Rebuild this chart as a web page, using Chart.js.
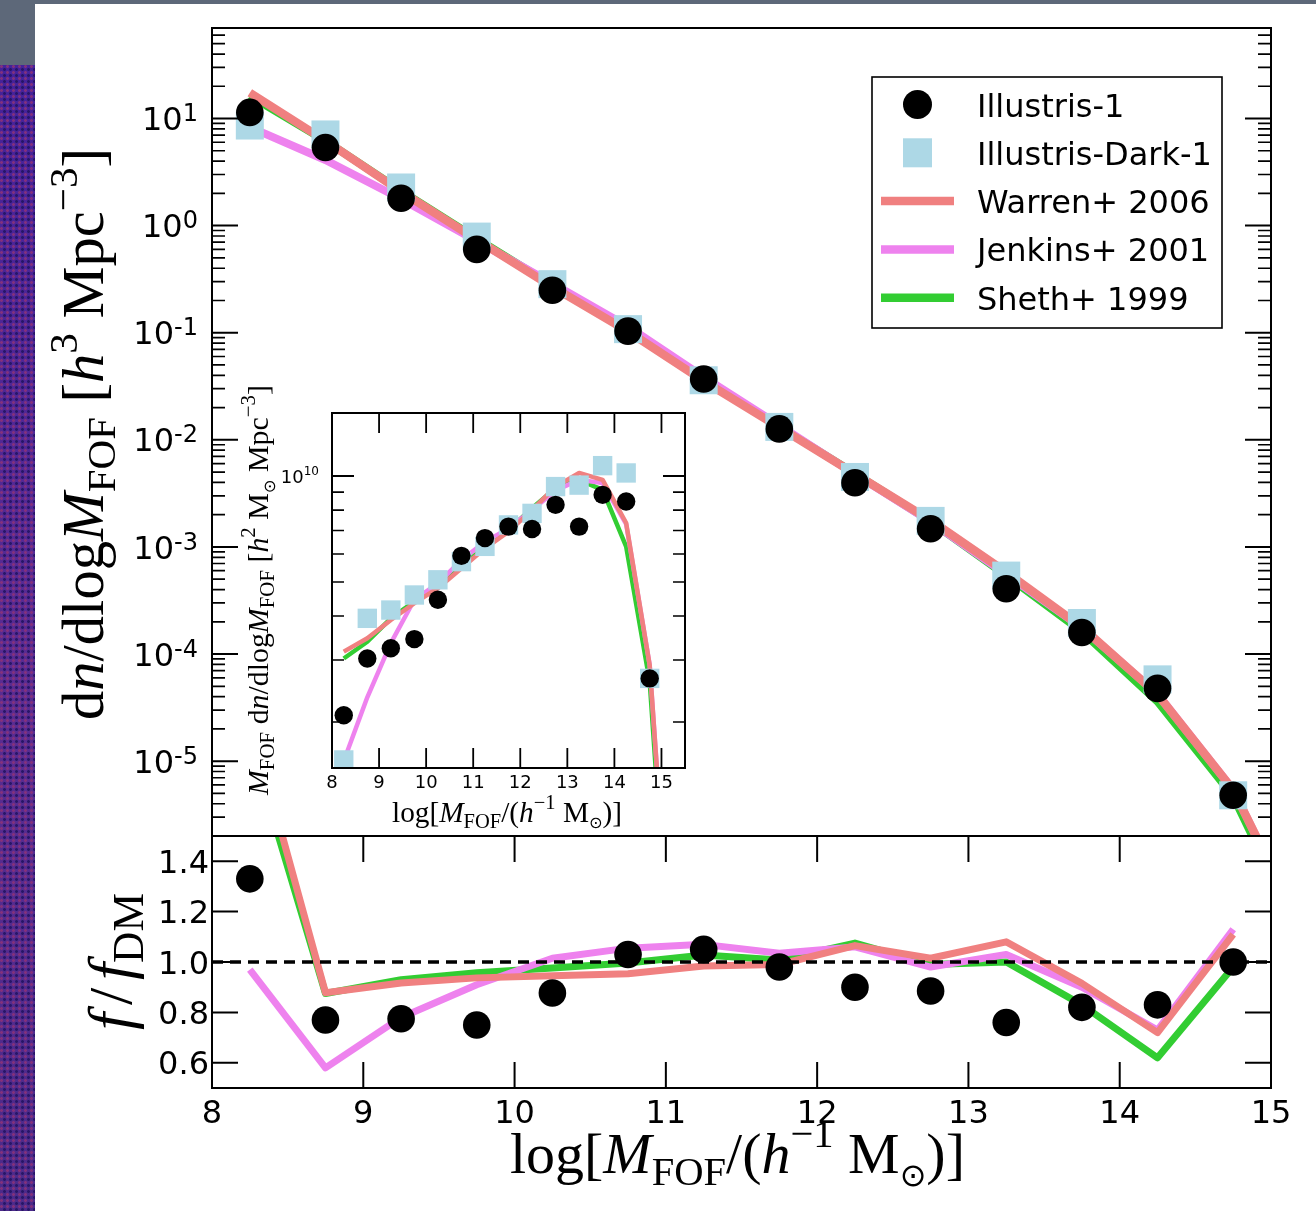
<!DOCTYPE html>
<html lang="en">
<head>
<meta charset="utf-8">
<title>FOF halo mass function</title>
<script src="https://cdn.jsdelivr.net/npm/chart.js@4.4.1/dist/chart.umd.min.js"></script>
<style>
  html, body { margin: 0; padding: 0; background: #ffffff; }
  #page { position: relative; width: 1316px; height: 1211px; overflow: hidden; background: #ffffff; }
  #page canvas { position: absolute; left: 0; top: 0; }
  .strip-top { position: absolute; left: 0; top: 0; width: 1316px; height: 4px; background: #5d6879; }
  .strip-corner { position: absolute; left: 0; top: 0; width: 35px; height: 65px; background: #5d6879; }
  .strip-side {
    position: absolute; left: 0; top: 65px; width: 35px; height: 1146px;
    background-color: #4a278f;
    background-image:
      radial-gradient(circle at 1.5px 1.5px, rgba(140, 50, 120, 0.85) 1px, transparent 1.8px),
      radial-gradient(circle at 4.5px 4.5px, rgba(35, 20, 100, 0.9) 1px, transparent 1.8px),
      linear-gradient(#45229a, #5a2c92 55%, #4c2a8a);
    background-size: 6px 6px, 6px 6px, 100% 100%;
  }
</style>
</head>
<body>
<div id="page">
  <div class="strip-top"></div>
  <div class="strip-corner"></div>
  <div class="strip-side"></div>
  <canvas id="massFunction" width="1316" height="1211"></canvas>
  <canvas id="ratio" width="1316" height="1211"></canvas>
  <canvas id="inset" width="1316" height="1211"></canvas>
</div>
<script>
// ---- data -------------------------------------------------------------
const seriesNames = ['Illustris-1', 'Illustris-Dark-1', 'Warren+ 2006', 'Jenkins+ 2001', 'Sheth+ 1999'];

// log10 of FOF mass, bin centres (models carry one extra bin past the edge)
const massBins = [8.25, 8.75, 9.25, 9.75, 10.25, 10.75, 11.25, 11.75, 12.25, 12.75, 13.25, 13.75, 14.25, 14.75];
const modelMass = [8.25, 8.75, 9.25, 9.75, 10.25, 10.75, 11.25, 11.75, 12.25, 12.75, 13.25, 13.75, 14.25, 14.75, 15.25];

// dn/dlogM [h^3 Mpc^-3]
const illustris = [11.4, 5.37, 1.80, 0.60, 0.249, 0.1035, 0.037, 0.01265, 0.00398, 0.00148, 4.07e-4, 1.59e-4, 4.78e-5, 4.8e-6];
const illustrisDark = [8.6, 7.1, 2.27, 0.79, 0.284, 0.108, 0.036, 0.0132, 0.0045, 0.00175, 5.4e-4, 1.95e-4, 5.8e-5, 4.8e-6];
const warren = [17.4, 6.2, 2.08, 0.74, 0.268, 0.103, 0.0354, 0.0131, 0.0048, 0.00177, 5.8e-4, 1.78e-4, 4.2e-5, 5.4e-6, 2.0e-7];
const jenkins = [8.3, 4.1, 1.77, 0.72, 0.288, 0.114, 0.0385, 0.01366, 0.00477, 0.00172, 5.56e-4, 1.76e-4, 4.23e-5, 5.4e-6, 2.0e-7];
const sheth = [16.3, 6.2, 2.11, 0.756, 0.277, 0.1076, 0.037, 0.0133, 0.00484, 0.00173, 5.4e-4, 1.62e-4, 3.6e-5, 4.7e-6, 1.6e-7];

// f / f_DM
const ratioIllustris = [1.33, 0.77, 0.775, 0.75, 0.877, 1.03, 1.05, 0.98, 0.90, 0.885, 0.76, 0.82, 0.83, 1.0];
const ratioWarren = [1.97, 0.878, 0.917, 0.937, 0.945, 0.953, 0.984, 0.99, 1.065, 1.015, 1.08, 0.915, 0.72, 1.11];
const ratioJenkins = [0.97, 0.58, 0.78, 0.91, 1.015, 1.055, 1.07, 1.035, 1.06, 0.98, 1.03, 0.90, 0.73, 1.13];
const ratioSheth = [1.88, 0.875, 0.93, 0.957, 0.976, 0.996, 1.028, 1.008, 1.075, 0.99, 1.0, 0.83, 0.62, 0.98];
const unityX = [8, 15];
const unityY = [1, 1];

// M dn/dlogM [h^2 Msun Mpc^-3]
const insetIllustris = [2.09e9, 3.03e9, 3.24e9, 3.44e9, 4.45e9, 5.93e9, 6.66e9, 7.18e9, 7.07e9, 8.28e9, 7.18e9, 8.84e9, 8.46e9, 2.66e9];
const insetDark = [1.56e9, 3.94e9, 4.16e9, 4.59e9, 5.07e9, 5.71e9, 6.31e9, 7.26e9, 7.83e9, 9.33e9, 9.42e9, 1.07e10, 1.02e10, 2.66e9];
const insetWarren = [3.17e9, 3.46e9, 3.9e9, 4.35e9, 4.8e9, 5.47e9, 6.23e9, 6.95e9, 8.0e9, 9.33e9, 1.02e10, 9.75e9, 7.35e9, 2.9e9, 3.2e8];
const insetJenkins = [1.55e9, 2.35e9, 3.35e9, 4.45e9, 4.95e9, 5.77e9, 6.5e9, 7.1e9, 8.0e9, 9.1e9, 9.75e9, 9.55e9, 7.3e9, 2.9e9, 3.2e8];
const insetSheth = [3.03e9, 3.38e9, 3.94e9, 4.4e9, 4.9e9, 5.52e9, 6.31e9, 7.03e9, 8.1e9, 9.23e9, 9.75e9, 9.13e9, 6.3e9, 2.6e9, 2.8e8];

// ticks
const massTicks = [8, 9, 10, 11, 12, 13, 14, 15];
const densityDecades = [-5, -4, -3, -2, -1, 0, 1];
const ratioTicks = [0.6, 0.8, 1.0, 1.2, 1.4];
const insetDecades = [10];

// ---- styling ----------------------------------------------------------
const W = 1316, H = 1211;
const SANS = '"DejaVu Sans", sans-serif';
const SERIF = '"Liberation Serif", "DejaVu Serif", serif';
const COLORS = ['#000000', '#add8e6', '#f08080', '#ee82ee', '#32cd32'];

function pts(xs, ys) {
    return ys.map((y, i) => ({ x: xs[i], y: y }));
}

function markers(name, xs, ys, style, radius, color) {
    return {
        label: name, data: pts(xs, ys), showLine: false,
        pointStyle: style, pointRadius: radius, pointHoverRadius: radius,
        pointBackgroundColor: color, pointBorderWidth: 0, clip: 0
    };
}

function curve(name, xs, ys, color, width, dash) {
    return {
        label: name, data: pts(xs, ys), showLine: true,
        borderColor: color, borderWidth: width, borderDash: dash || [],
        borderJoinStyle: 'round', tension: 0,
        pointRadius: 0, pointHoverRadius: 0, clip: 0
    };
}

// ---- drawing helpers ----------------------------------------------------
function frame(ctx, a) {
    ctx.lineWidth = 2;
    ctx.strokeStyle = '#000';
    ctx.strokeRect(a.left, a.top, a.right - a.left, a.bottom - a.top);
}

function ticksX(chart, values, len, width, sides) {
    const { ctx, chartArea: a } = chart;
    const s = chart.scales.x;
    ctx.lineWidth = width;
    ctx.strokeStyle = '#000';
    ctx.beginPath();
    values.forEach(v => {
        const p = s.getPixelForValue(v);
        if (sides.includes('bottom')) { ctx.moveTo(p, a.bottom); ctx.lineTo(p, a.bottom - len); }
        if (sides.includes('top')) { ctx.moveTo(p, a.top); ctx.lineTo(p, a.top + len); }
    });
    ctx.stroke();
}

function ticksY(chart, values, len, width) {
    const { ctx, chartArea: a } = chart;
    const s = chart.scales.y;
    ctx.lineWidth = width;
    ctx.strokeStyle = '#000';
    ctx.beginPath();
    values.forEach(v => {
        const p = s.getPixelForValue(v);
        ctx.moveTo(a.left, p); ctx.lineTo(a.left + len, p);
        ctx.moveTo(a.right, p); ctx.lineTo(a.right - len, p);
    });
    ctx.stroke();
}

function logMinors(lo, hi) {
    const out = [];
    for (let d = Math.floor(Math.log10(lo)); d <= Math.ceil(Math.log10(hi)); d++) {
        for (let k = 2; k <= 9; k++) {
            const v = k * Math.pow(10, d);
            if (v > lo && v < hi) out.push(v);
        }
    }
    return out;
}

// "10" with a raised exponent, right-aligned, vertically centred on y
function powLabel(ctx, exp, xRight, y, size, supSize, raise) {
    ctx.textAlign = 'left';
    ctx.textBaseline = 'alphabetic';
    ctx.fillStyle = '#000';
    ctx.font = size + 'px ' + SANS;
    const w10 = ctx.measureText('10').width;
    ctx.font = supSize + 'px ' + SANS;
    const ws = ctx.measureText(exp).width;
    const base = y + size * 0.729 / 2;
    const x0 = xRight - w10 - ws;
    ctx.font = size + 'px ' + SANS;
    ctx.fillText('10', x0, base);
    ctx.font = supSize + 'px ' + SANS;
    ctx.fillText(exp, x0 + w10, base - raise);
}

function plainLabel(ctx, text, x, y, size, align) {
    ctx.textAlign = align;
    ctx.textBaseline = 'alphabetic';
    ctx.fillStyle = '#000';
    ctx.font = size + 'px ' + SANS;
    ctx.fillText(text, x, y + size * 0.729 / 2);
}

// math-style titles: runs of text with their own scale / shift / slant
function partFont(p, size) {
    return (p.it ? 'italic ' : '') + (size * (p.sc || 1)).toFixed(2) + 'px ' + (p.sans ? SANS : SERIF);
}

function richWidth(ctx, parts, size) {
    let w = 0;
    parts.forEach(p => { ctx.font = partFont(p, size); w += ctx.measureText(p.t).width; });
    return w;
}

function drawRich(ctx, parts, x, y, size) {
    ctx.textAlign = 'left';
    ctx.textBaseline = 'alphabetic';
    ctx.fillStyle = '#000';
    let cx = x;
    parts.forEach(p => {
        ctx.font = partFont(p, size);
        ctx.fillText(p.t, cx, y + (p.dy || 0) * size);
        cx += ctx.measureText(p.t).width;
    });
}

function fitSize(ctx, parts, length) {
    return 100 * length / richWidth(ctx, parts, 100);
}

function titleH(ctx, parts, x0, x1, baseline) {
    drawRich(ctx, parts, x0, baseline, fitSize(ctx, parts, x1 - x0));
}

function titleV(ctx, parts, yStart, yEnd, baseline) {
    const size = fitSize(ctx, parts, yStart - yEnd);
    ctx.save();
    ctx.translate(baseline, yStart);
    ctx.rotate(-Math.PI / 2);
    drawRich(ctx, parts, 0, 0, size);
    ctx.restore();
}

const SUB = { sc: 0.7, dy: 0.2 };
const SUP = { sc: 0.7, dy: -0.45 };
const SUN = { t: '\u2299', sc: 0.55, dy: 0.22, sans: 1 };

const massTitle = [
    { t: 'log[' }, { t: 'M', it: 1 }, Object.assign({ t: 'FOF' }, SUB), { t: '/(' }, { t: 'h', it: 1 },
    Object.assign({ t: '\u22121' }, SUP), { t: ' M' }, SUN, { t: ')]' }
];
const densityTitle = [
    { t: 'd' }, { t: 'n', it: 1 }, { t: '/dlog' }, { t: 'M', it: 1 }, Object.assign({ t: 'FOF' }, SUB),
    { t: ' [' }, { t: 'h', it: 1 }, Object.assign({ t: '3' }, SUP), { t: ' Mpc' },
    Object.assign({ t: '\u22123' }, SUP), { t: ']' }
];
const ratioTitle = [
    { t: 'f', it: 1 }, { t: ' ', sc: 0.5 }, { t: '/' }, { t: ' ', sc: 0.5 }, { t: 'f', it: 1 },
    Object.assign({ t: 'DM' }, SUB)
];
const insetTitle = [
    { t: 'M', it: 1 }, Object.assign({ t: 'FOF' }, SUB), { t: ' d' }, { t: 'n', it: 1 }, { t: '/dlog' },
    { t: 'M', it: 1 }, Object.assign({ t: 'FOF' }, SUB), { t: ' [' }, { t: 'h', it: 1 },
    Object.assign({ t: '2' }, SUP), { t: ' M' }, SUN, { t: ' Mpc' }, Object.assign({ t: '\u22123' }, SUP), { t: ']' }
];

function drawLegend(ctx) {
    const l = 872, t = 77, r = 1222, b = 328;
    ctx.fillStyle = '#fff';
    ctx.fillRect(l, t, r - l, b - t);
    ctx.lineWidth = 1.6;
    ctx.strokeStyle = '#000';
    ctx.strokeRect(l, t, r - l, b - t);
    const kinds = ['circle', 'square', 'line', 'line', 'line'];
    seriesNames.forEach((name, i) => {
        const y = 104.5 + i * 48.3;
        ctx.fillStyle = COLORS[i];
        if (kinds[i] === 'circle') {
            ctx.beginPath();
            ctx.arc(917.5, y, 14.5, 0, Math.PI * 2);
            ctx.fill();
        } else if (kinds[i] === 'square') {
            ctx.fillRect(903, y - 14.5, 29, 29);
        } else {
            ctx.strokeStyle = COLORS[i];
            ctx.lineWidth = 8.5;
            ctx.beginPath();
            ctx.moveTo(881, y); ctx.lineTo(954, y);
            ctx.stroke();
        }
        ctx.fillStyle = '#000';
        ctx.font = '32px ' + SANS;
        ctx.textAlign = 'left';
        ctx.textBaseline = 'alphabetic';
        ctx.fillText(name, 977, y + 12);
    });
}

// ---- chart factory --------------------------------------------------------
function panel(id, area, xOpts, yOpts, datasets, decorate) {
    return new Chart(document.getElementById(id), {
        type: 'scatter',
        data: { datasets: datasets },
        options: {
            responsive: false,
            animation: false,
            devicePixelRatio: 1,
            events: [],
            layout: {
                autoPadding: false,
                padding: { left: area.left, top: area.top, right: W - area.right, bottom: H - area.bottom }
            },
            scales: {
                x: Object.assign({ display: false, bounds: 'data' }, xOpts),
                y: Object.assign({ display: false, bounds: 'data' }, yOpts)
            },
            plugins: { legend: { display: false }, tooltip: { enabled: false } }
        },
        plugins: [{
            id: id + 'Axes',
            beforeDatasetsDraw(chart) {
                const a = chart.chartArea;
                chart.ctx.save();
                chart.ctx.fillStyle = '#fff';
                chart.ctx.fillRect(a.left, a.top, a.right - a.left, a.bottom - a.top);
                chart.ctx.restore();
            },
            afterDraw(chart) {
                chart.ctx.save();
                decorate(chart, chart.ctx);
                chart.ctx.restore();
            }
        }]
    });
}

// ---- main panel: dn/dlogM ---------------------------------------------------
panel('massFunction', { left: 212, top: 28, right: 1271, bottom: 836 },
    { type: 'linear', min: 8, max: 15 },
    { type: 'logarithmic', min: 2e-6, max: 70 },
    [
        markers(seriesNames[0], massBins, illustris, 'circle', 13.8, COLORS[0]),
        markers(seriesNames[1], massBins, illustrisDark, 'rect', 19.8, COLORS[1]),
        curve(seriesNames[2], modelMass, warren, COLORS[2], 8.5),
        curve(seriesNames[3], modelMass, jenkins, COLORS[3], 8),
        curve(seriesNames[4], modelMass, sheth, COLORS[4], 8)
    ],
    (chart, ctx) => {
        const y = chart.scales.y;
        frame(ctx, chart.chartArea);
        ticksY(chart, densityDecades.map(e => Math.pow(10, e)), 26, 2);
        ticksY(chart, logMinors(y.min, y.max), 13, 1.7);
        densityDecades.forEach(e => powLabel(ctx, String(e), 198, y.getPixelForValue(Math.pow(10, e)), 32, 24, 9));
        titleV(ctx, densityTitle, 720, 148, 103);
        drawLegend(ctx);
    });

// ---- lower panel: ratio to the dark-matter-only run -------------------------
panel('ratio', { left: 212, top: 836, right: 1271, bottom: 1088 },
    { type: 'linear', min: 8, max: 15 },
    { type: 'linear', min: 0.5, max: 1.5 },
    [
        markers(seriesNames[0], massBins, ratioIllustris, 'circle', 13.8, COLORS[0]),
        curve('unity', unityX, unityY, '#000', 3.5, [11, 7]),
        curve(seriesNames[2], massBins, ratioWarren, COLORS[2], 7),
        curve(seriesNames[3], massBins, ratioJenkins, COLORS[3], 7),
        curve(seriesNames[4], massBins, ratioSheth, COLORS[4], 7)
    ],
    (chart, ctx) => {
        const x = chart.scales.x, y = chart.scales.y;
        frame(ctx, chart.chartArea);
        ticksX(chart, massTicks, 26, 2, ['top', 'bottom']);
        ticksY(chart, ratioTicks, 26, 2);
        ratioTicks.forEach(v => plainLabel(ctx, v.toFixed(1), 209, y.getPixelForValue(v), 32, 'right'));
        massTicks.forEach(v => plainLabel(ctx, String(v), x.getPixelForValue(v), 1111, 32, 'center'));
        titleH(ctx, massTitle, 510, 965, 1173);
        titleV(ctx, ratioTitle, 1030, 893, 131);
    });

// ---- inset: M dn/dlogM ------------------------------------------------------
panel('inset', { left: 332, top: 413, right: 685, bottom: 768 },
    { type: 'linear', min: 8, max: 15.5 },
    { type: 'logarithmic', min: 1.48e9, max: 1.51e10 },
    [
        markers(seriesNames[0], massBins, insetIllustris, 'circle', 9.2, COLORS[0]),
        markers(seriesNames[1], massBins, insetDark, 'rect', 13.7, COLORS[1]),
        curve(seriesNames[2], modelMass, insetWarren, COLORS[2], 4.5),
        curve(seriesNames[3], modelMass, insetJenkins, COLORS[3], 4.5),
        curve(seriesNames[4], modelMass, insetSheth, COLORS[4], 4.5)
    ],
    (chart, ctx) => {
        const x = chart.scales.x, y = chart.scales.y;
        frame(ctx, chart.chartArea);
        ticksX(chart, massTicks, 20, 1.8, ['top', 'bottom']);
        ticksY(chart, insetDecades.map(e => Math.pow(10, e)), 22, 1.8);
        ticksY(chart, logMinors(y.min, y.max), 12, 1.6);
        insetDecades.forEach(e => powLabel(ctx, String(e), 319, y.getPixelForValue(Math.pow(10, e)), 18, 12, 8));
        massTicks.forEach(v => plainLabel(ctx, String(v), x.getPixelForValue(v), 781, 18, 'center'));
        titleH(ctx, massTitle, 392, 622, 822);
        titleV(ctx, insetTitle, 795, 385, 268);
    });
</script>
</body>
</html>
